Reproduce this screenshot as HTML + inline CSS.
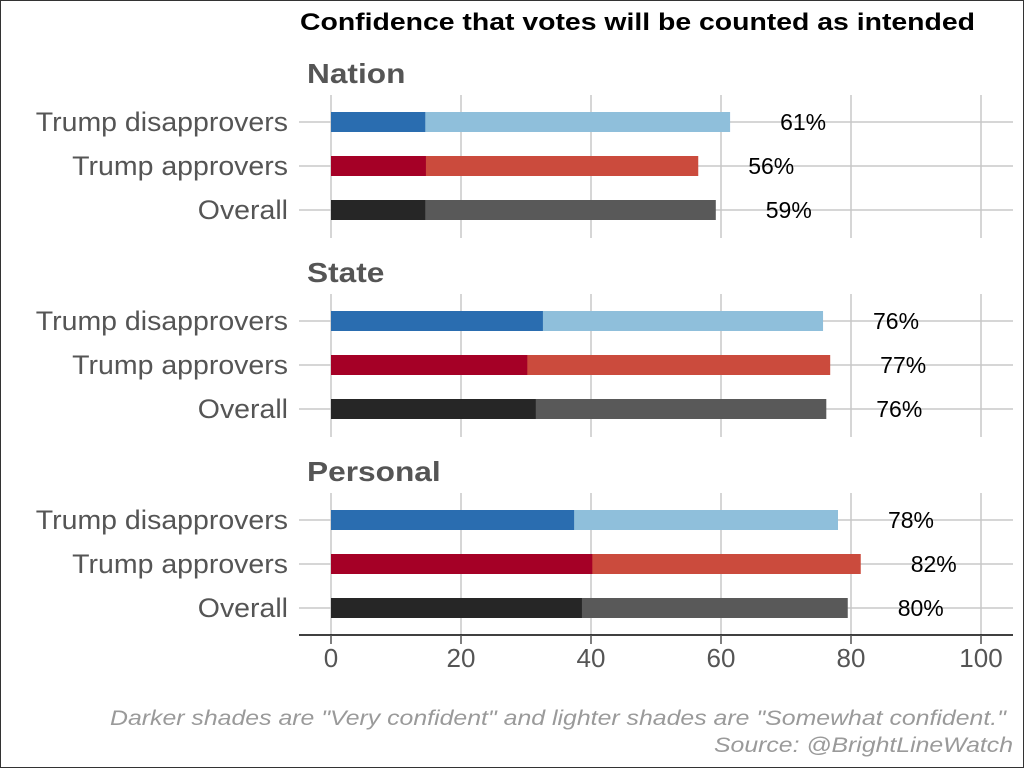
<!DOCTYPE html>
<html><head><meta charset="utf-8"><style>
html,body{margin:0;padding:0;background:#fff}
svg{display:block;font-family:"Liberation Sans",sans-serif}
</style></head><body>
<svg id="chart" width="1024" height="768">
<rect x="0.5" y="0.5" width="1023" height="767" fill="#fff" stroke="#333"/>
<text x="300" y="30" font-size="24" font-weight="bold" fill="#000" textLength="675" lengthAdjust="spacingAndGlyphs">Confidence that votes will be counted as intended</text>
<g id="plot"></g>
<text x="110" y="725" font-size="21" font-style="italic" fill="#9a9a9a" textLength="896" lengthAdjust="spacingAndGlyphs">Darker shades are "Very confident" and lighter shades are "Somewhat confident."</text>
<text x="714" y="752" font-size="21" font-style="italic" fill="#9a9a9a" textLength="299" lengthAdjust="spacingAndGlyphs">Source: @BrightLineWatch</text>
</svg>
<script>
const panels = ["Nation","State","Personal"];
const groups = ["Trump disapprovers","Trump approvers","Overall"];
const veryConf = [[14.5,14.6,14.5],[32.6,30.2,31.5],[37.4,40.2,38.6]];
const totalConf = [[61.4,56.5,59.2],[75.7,76.8,76.2],[78,81.5,79.5]];
const totalLabels = [["61%","56%","59%"],["76%","77%","76%"],["78%","82%","80%"]];
const ticks = [0,20,40,60,80,100];

const dark=["#2a6db0","#a50026","#262626"], light=["#8fbfdb","#cb4b3d","#595959"];
const x=v=>331+v*6.5;
const ns="http://www.w3.org/2000/svg", g=document.getElementById("plot");
function mk(t,a,txt){const e=document.createElementNS(ns,t);for(const k in a)e.setAttribute(k,a[k]);if(txt!=null)e.textContent=txt;g.appendChild(e);return e;}
function stretch(e,f){const w=e.getComputedTextLength();e.setAttribute("textLength",(w*f).toFixed(1));e.setAttribute("lengthAdjust","spacingAndGlyphs");}
panels.forEach((p,pi)=>{
  const top=95+pi*199, bottom=top+143;
  ticks.forEach(t=>{const l=mk("line",{x1:x(t),x2:x(t),y1:top,y2:bottom,stroke:"#c8c8c8","stroke-width":1.5});
    
    });
  const pt=mk("text",{x:307,y:top-12,"font-size":28,"font-weight":"bold",fill:"#555"},p);
  
  
  stretch(pt,1.13);
  groups.forEach((gname,gi)=>{
    const yc=top+27+gi*44;
    const hl=mk("line",{x1:299,x2:1013,y1:yc,y2:yc,stroke:"#c8c8c8","stroke-width":1.5});
    
    
    const lb=mk("text",{x:288,y:yc+9,"text-anchor":"end","font-size":27,fill:"#555"},gname);
    
    
    stretch(lb,1.055);
    const b2=mk("rect",{x:x(0),y:yc-10,width:x(totalConf[pi][gi])-x(0),height:20,fill:light[gi]});
    
    
    const b1=mk("rect",{x:x(0),y:yc-10,width:x(veryConf[pi][gi])-x(0),height:20,fill:dark[gi]});
    
    
    const vl=mk("text",{x:x(totalConf[pi][gi])+73,y:yc+8,"text-anchor":"middle","font-size":23,fill:"#000"},totalLabels[pi][gi]);
    
    
  });
});
const ax=mk("line",{x1:299,x2:1013,y1:635,y2:635,stroke:"#000","stroke-width":1.5});


ticks.forEach(t=>{
  const tk=mk("line",{x1:x(t),x2:x(t),y1:635,y2:644,stroke:"#555","stroke-width":1.5});
  
  
  const tl=mk("text",{x:x(t),y:667,"text-anchor":"middle","font-size":26,fill:"#555"},String(t));
  
  
});
</script>
</body></html>
